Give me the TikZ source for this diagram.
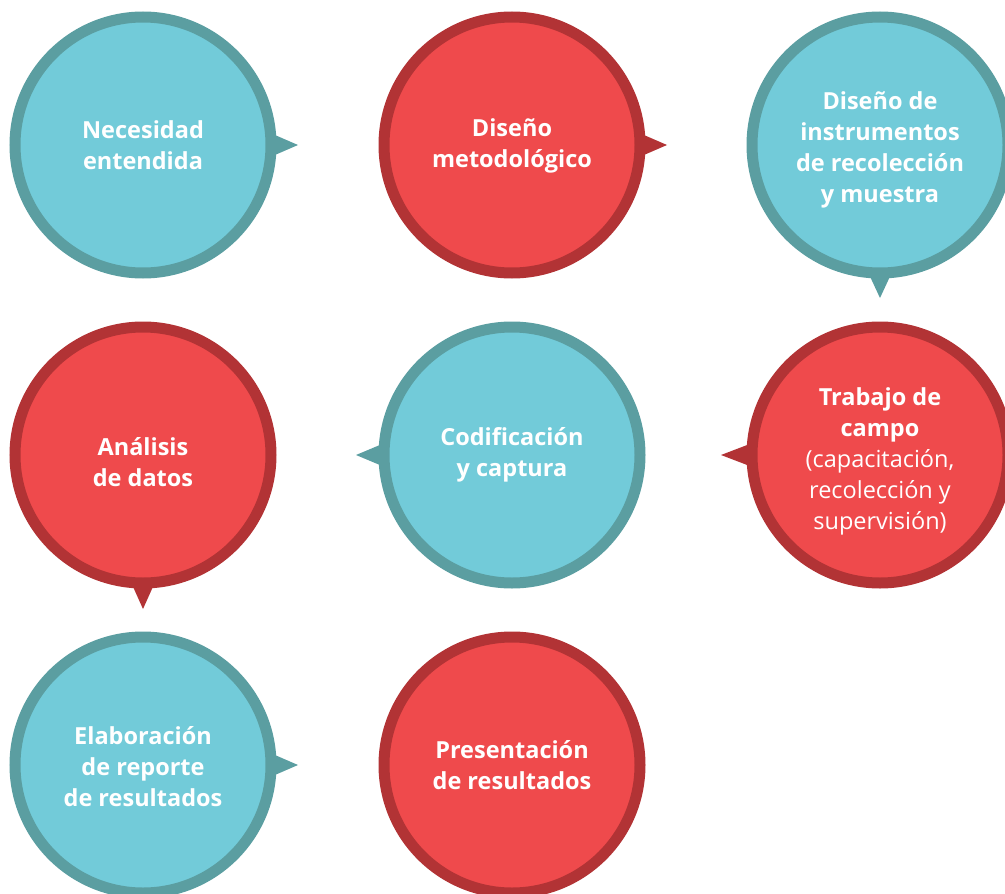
\documentclass[tikz,border=0pt]{standalone}
\usepackage{fontspec}
\setmainfont{Open Sans}
\definecolor{tealb}{HTML}{5B9EA1}
\definecolor{tealf}{HTML}{72CBD9}
\definecolor{redb}{HTML}{B23335}
\definecolor{redf}{HTML}{EF4A4C}
\begin{document}
\begin{tikzpicture}[x=1pt,y=-1pt,
  bub/.style={circle, minimum size=256pt, inner sep=0pt, line width=11pt},
  bluebub/.style={bub, fill=tealf, draw=tealb},
  redbub/.style={bub, fill=redf, draw=redb},
  txt/.style={text=white, align=center, inner sep=0pt, font=\fontsize{23.5}{31}\selectfont\bfseries}]
\useasboundingbox (0,0) rectangle (1005,894);
\clip (0,0) rectangle (1005,894);
\node[bluebub] (n1) at (143,145) {};
\node[redbub]  (n2) at (512,145) {};
\node[bluebub] (n3) at (880,145) {};
\node[redbub]  (n4) at (880,455) {};
\node[bluebub] (n5) at (512,455) {};
\node[redbub]  (n6) at (143,455) {};
\node[bluebub] (n7) at (143,765) {};
\node[redbub]  (n8) at (512,765) {};
% texts
\node[txt] (t1) at (n1.center) {Necesidad\\entendida};
\node[txt] (t2) at ([yshift=-1pt]n2.center) {Diseño\\metodológico};
\node[txt] (t3) at ([yshift=-4.5pt]n3.center) {Diseño de\\instrumentos\\de recolección\\y muestra};
\node[txt] (t4) at ([yshift=-6pt]n4.center) {Trabajo de\\campo\\\mdseries(capacitación,\\\mdseries recolección y\\\mdseries supervisión)};
\node[txt] (t5) at (n5.center) {Codificación\\y captura};
\node[txt] (t6) at ([yshift=-7pt]n6.center) {Análisis\\de datos};
\node[txt] (t7) at ([yshift=-2pt]n7.center) {Elaboración\\de reporte\\de resultados};
\node[txt] (t8) at (n8.center) {Presentación\\de resultados};
% pointers
\fill[tealb, shift={(n1.center)}] (125,-13) -- (155,0) -- (125,13) -- cycle;
\fill[redb,  shift={(n2.center)}] (125,-13) -- (155,0) -- (125,13) -- cycle;
\fill[tealb, shift={(n3.center)}] (-13,125) -- (0,153) -- (13,125) -- cycle;
\fill[redb,  shift={(n4.center)}] (-125,-13) -- (-159,0) -- (-125,13) -- cycle;
\fill[tealb, shift={(n5.center)}] (-125,-13) -- (-156,0) -- (-125,13) -- cycle;
\fill[redb,  shift={(n6.center)}] (-13,125) -- (0,154) -- (13,125) -- cycle;
\fill[tealb, shift={(n7.center)}] (125,-13) -- (155,0) -- (125,13) -- cycle;
\end{tikzpicture}
\end{document}
